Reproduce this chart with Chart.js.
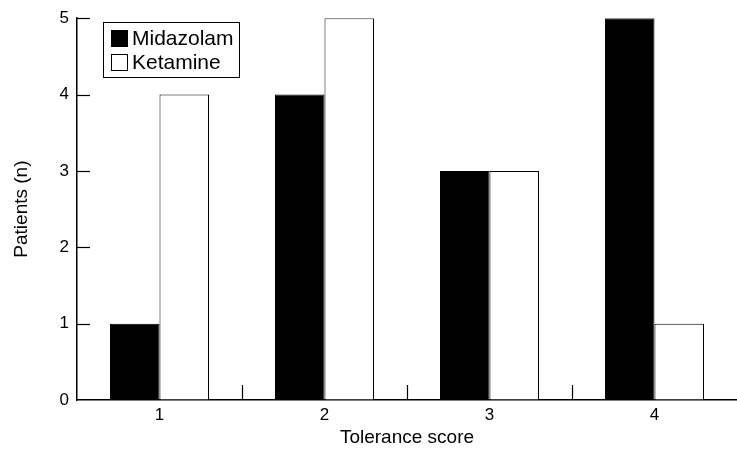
<!DOCTYPE html>
<html>
<head>
<meta charset="utf-8">
<script src="https://cdn.jsdelivr.net/npm/chart.js@4/dist/chart.umd.min.js"></script>
<style>
  html, body { margin: 0; padding: 0; background: #fff; }
  #wrap { width: 737px; height: 449px; }
</style>
</head>
<body>
<div id="wrap"><canvas id="myChart"></canvas></div>
<script>
// data
const categories = ['1', '2', '3', '4'];
const midazolam = [1, 4, 3, 5];
const ketamine = [4, 5, 3, 1];
const yTicks = [0, 1, 2, 3, 4, 5];

const FONT = 'Liberation Sans, Arial, sans-serif';

// inward tick marks + boxed legend inside the plot
const figurePlugin = {
    id: 'figure',
    afterDraw(chart) {
        const ctx = chart.ctx;
        const x = chart.scales.x;
        const y = chart.scales.y;
        const area = chart.chartArea;
        ctx.save();
        ctx.strokeStyle = '#000';
        ctx.lineWidth = 1.2;

        // y ticks pointing right
        yTicks.forEach(v => {
            if (v === 0) return;
            const py = Math.round(y.getPixelForValue(v)) + 0.5;
            ctx.beginPath();
            ctx.moveTo(area.left, py);
            ctx.lineTo(area.left + 13, py);
            ctx.stroke();
        });

        // x ticks between groups pointing up
        for (let i = 0; i < categories.length - 1; i++) {
            const px = Math.round((x.getPixelForValue(i) + x.getPixelForValue(i + 1)) / 2) + 0.5;
            ctx.beginPath();
            ctx.moveTo(px, area.bottom);
            ctx.lineTo(px, area.bottom - 15);
            ctx.stroke();
        }

        // legend box
        const bx = 103.5, by = 22.5, bw = 136, bh = 55;
        ctx.lineWidth = 1;
        ctx.fillStyle = '#fff';
        ctx.fillRect(bx, by, bw, bh);
        ctx.strokeRect(bx, by, bw, bh);
        ctx.font = '21px ' + FONT;
        ctx.textBaseline = 'middle';
        chart.data.datasets.forEach((ds, i) => {
            const sy = 30.5 + i * 24;
            ctx.fillStyle = ds.backgroundColor;
            ctx.fillRect(111.5, sy, 16, 16);
            ctx.strokeStyle = '#000';
            ctx.strokeRect(111.5, sy, 16, 16);
            ctx.fillStyle = '#000';
            ctx.fillText(ds.label, 132, sy + 9);
        });
        ctx.restore();
    }
};

const ctx = document.getElementById('myChart').getContext('2d');

const myChart = new Chart(ctx, {
    type: 'bar',
    data: {
        labels: categories,
        datasets: [{
            label: 'Midazolam',
            data: midazolam,
            backgroundColor: '#000',
            borderColor: '#000',
            borderWidth: 1
        }, {
            label: 'Ketamine',
            data: ketamine,
            backgroundColor: '#fff',
            borderColor: '#000',
            borderWidth: 1
        }]
    },
    plugins: [figurePlugin],
    options: {
        responsive: true,
        maintainAspectRatio: false,
        animation: false,
        layout: { padding: { top: 17, right: 0, left: 0, bottom: 0 } },
        plugins: {
            legend: { display: false },
            tooltip: { enabled: false }
        },
        datasets: {
            bar: { categoryPercentage: 0.6, barPercentage: 1.0 }
        },
        scales: {
            x: {
                afterFit(scale) { scale.height = 49; },
                grid: { drawOnChartArea: false, drawTicks: false },
                border: { display: true, color: '#000', width: 1.5 },
                ticks: { color: '#000', font: { family: FONT, size: 17 }, padding: 5 },
                title: {
                    display: true,
                    text: 'Tolerance score',
                    color: '#000',
                    font: { family: FONT, size: 19 },
                    padding: { top: 2, bottom: 0 }
                }
            },
            y: {
                min: 0,
                max: 5,
                afterFit(scale) { scale.width = 77; },
                grid: { drawOnChartArea: false, drawTicks: false },
                border: { display: true, color: '#000', width: 1.5 },
                ticks: {
                    stepSize: 1,
                    color: '#000',
                    font: { family: FONT, size: 17 },
                    padding: 8
                },
                title: {
                    display: true,
                    text: 'Patients (n)',
                    color: '#000',
                    font: { family: FONT, size: 19 },
                    padding: { top: 10, bottom: 4 }
                }
            }
        }
    }
});
</script>
</body>
</html>
